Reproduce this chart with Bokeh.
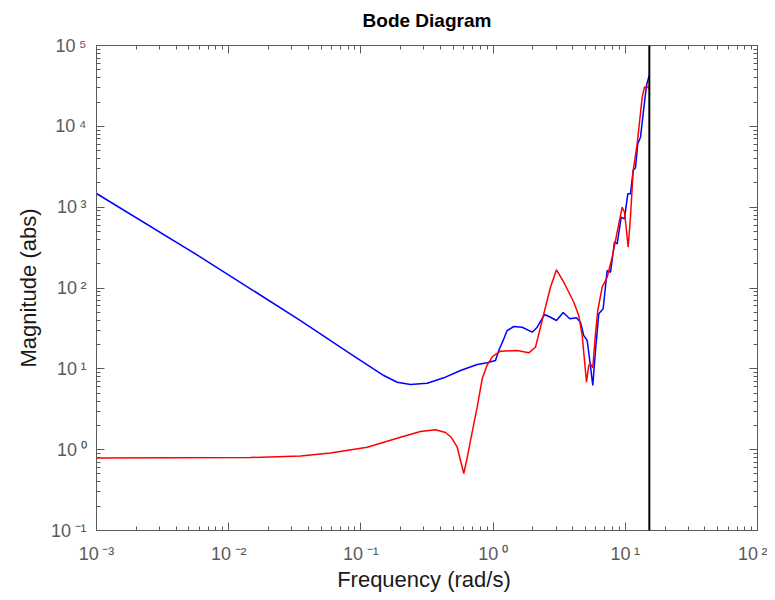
from bokeh.plotting import figure
from bokeh.models import LogAxis, FixedTicker, CustomJSTickFormatter, Span, Range1d
from bokeh.embed import file_html
from bokeh.resources import INLINE

# ---- data ----
blue_freq = [0.001, 0.00612, 0.0349, 0.0834, 0.1490, 0.1881, 0.2371, 0.3172, 0.4236, 0.5667,
             0.7578, 0.902, 1.042, 1.104, 1.205, 1.278, 1.434, 1.660, 1.975, 2.155,
             2.447, 2.716, 3.016, 3.389, 3.802, 4.272, 4.581, 4.853, 5.149, 5.386,
             5.675, 5.949, 6.30, 6.80, 7.29, 7.73, 8.28, 8.68, 9.31, 9.86,
             10.44, 10.94, 11.47, 11.94, 12.43, 13.03, 13.65, 14.46, 15.16]
blue_mag = [1476, 241.6, 39.6, 15.34, 8.26, 6.83, 6.40, 6.64, 7.74, 9.53,
            11.31, 11.87, 12.67, 16.85, 23.5, 29.8, 33.4, 32.7, 28.4, 32.7,
            46.97, 43.5, 39.6, 49.7, 41.6, 42.8, 37.7, 25.8, 22.4, 12.67,
            6.22, 16.85, 47.9, 55.3, 164.6, 156.8, 368.5, 352.1, 751, 717.8,
            1463, 1463, 2842, 3069, 6079, 7338, 14289, 32010, 42550]

red_freq = [0.001, 0.01462, 0.0349, 0.0589, 0.1116, 0.1993, 0.2823, 0.3666, 0.4363, 0.4844,
            0.5351, 0.5667, 0.6003, 0.6347, 0.6745, 0.7578, 0.827, 0.902, 0.989, 1.137,
            1.521, 1.862, 2.092, 2.418, 2.716, 3.016, 3.425, 4.077, 4.447, 4.72,
            4.913, 5.087, 5.294, 5.455, 5.675, 5.949, 6.19, 6.685, 7.29, 7.96,
            8.58, 9.47, 9.86, 10.21, 10.51, 10.94, 11.47, 12.30, 13.42, 13.96,
            14.64, 15.16]
red_mag = [0.79, 0.80, 0.834, 0.909, 1.072, 1.425, 1.676, 1.760, 1.629, 1.413,
           1.072, 0.734, 0.507, 0.777, 1.297, 3.35, 7.52, 11.14, 14.2, 16.52,
           16.85, 15.78, 18.51, 47.9, 102.3, 167.9, 117.9, 66.7, 45.7, 25.8,
           12.67, 6.83, 10.99, 11.53, 10.29, 27.1, 52.7, 102.3, 135.9, 240.4,
           445.9, 998.6, 866, 514, 319.5, 751, 2842, 6079, 22930, 30490,
           31100, 29130]

nyquist_freq = 15.2

x_ticks = [1e-3, 1e-2, 1e-1, 1.0, 1e1, 1e2]
y_ticks = [1e-1, 1.0, 1e1, 1e2, 1e3, 1e4, 1e5]
x_minor = [k * 10.0 ** n for n in range(-3, 2) for k in range(2, 10)]
y_minor = [k * 10.0 ** n for n in range(-1, 5) for k in range(2, 10)]

title_text = "Bode Diagram"
x_label = "Frequency  (rad/s)"
y_label = "Magnitude (abs)"

# ---- styling ----
FONT = "Liberation Sans"
AXIS_COLOR = "#5a5a5a"
LABEL_COLOR = "#5a5a5a"

p = figure(width=767, height=600,
           x_axis_type="log", y_axis_type="log",
           x_range=Range1d(1e-3, 1e2), y_range=Range1d(1e-1, 1e5),
           output_backend="svg", toolbar_location=None,
           min_border_left=96, min_border_right=10,
           min_border_top=45, min_border_bottom=70)

p.xgrid.visible = False
p.ygrid.visible = False
p.outline_line_color = AXIS_COLOR
p.background_fill_color = "white"
p.border_fill_color = "white"

fmt_js = """
const sup = {"-":"\\u207b","0":"\\u2070","1":"\\u00b9","2":"\\u00b2","3":"\\u00b3",
             "4":"\\u2074","5":"\\u2075","6":"\\u2076","7":"\\u2077","8":"\\u2078","9":"\\u2079"};
const e = Math.round(Math.log10(tick));
return "10\\u2009" + String(e).split("").map(c => sup[c]).join("");
"""

def style_axis(ax, ticks, minor, show_labels):
    ax.ticker = FixedTicker(ticks=ticks, minor_ticks=minor)
    ax.axis_line_color = AXIS_COLOR
    ax.axis_line_width = 1
    ax.major_tick_line_color = AXIS_COLOR
    ax.minor_tick_line_color = AXIS_COLOR
    ax.major_tick_in = 8
    ax.major_tick_out = 0
    ax.minor_tick_in = 4
    ax.minor_tick_out = 0
    if show_labels:
        ax.formatter = CustomJSTickFormatter(code=fmt_js)
        ax.major_label_text_font = FONT
        ax.major_label_text_font_size = "18px"
        ax.major_label_text_color = LABEL_COLOR
        ax.axis_label_text_font = FONT
        ax.axis_label_text_font_size = "22px"
        ax.axis_label_text_font_style = "normal"
        ax.axis_label_text_color = "#1a1a1a"
    else:
        ax.formatter = CustomJSTickFormatter(code="return '';")
        ax.major_label_standoff = 0

xb = p.xaxis[0]
yl = p.yaxis[0]
style_axis(xb, x_ticks, x_minor, True)
style_axis(yl, y_ticks, y_minor, True)
xb.axis_label = x_label
yl.axis_label = y_label
xb.major_label_standoff = 13
xb.axis_label_standoff = 0
yl.major_label_standoff = 10
yl.axis_label_standoff = 7

# top axis (box ticks) carries the chart title as its label
xt = LogAxis()
style_axis(xt, x_ticks, x_minor, False)
xt.axis_label = title_text
xt.axis_label_text_font = FONT
xt.axis_label_text_font_size = "19px"
xt.axis_label_text_font_style = "bold"
xt.axis_label_text_color = "black"
xt.axis_label_standoff = 15
p.add_layout(xt, "above")

yr = LogAxis()
style_axis(yr, y_ticks, y_minor, False)
p.add_layout(yr, "right")

p.line(blue_freq, blue_mag, line_color="#0000ff", line_width=1.5)
p.line(red_freq, red_mag, line_color="#ff0000", line_width=1.5)

p.add_layout(Span(location=nyquist_freq, dimension="height",
                  line_color="black", line_width=2))

open("out.html", "w").write(file_html(p, INLINE))
